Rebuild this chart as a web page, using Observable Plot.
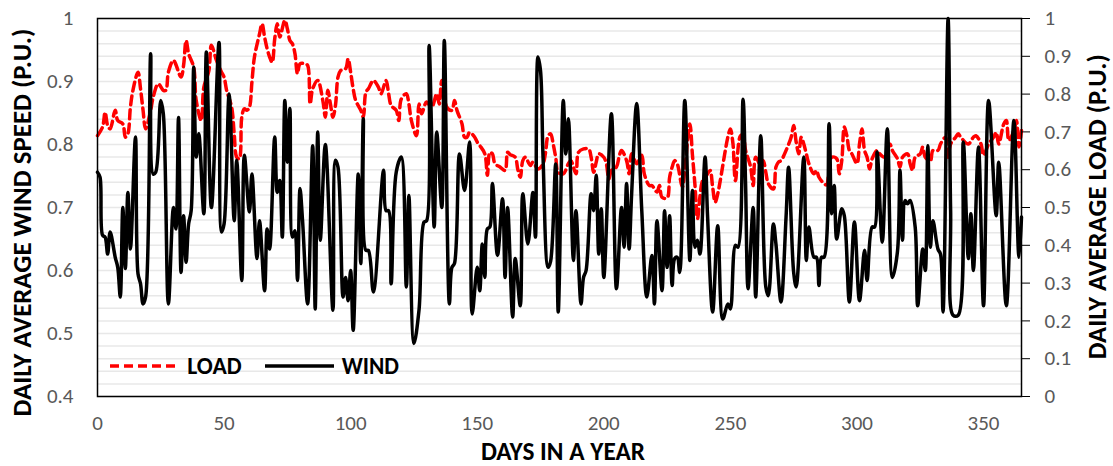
<!DOCTYPE html>
<html><head><meta charset="utf-8">
<script src="https://cdn.jsdelivr.net/npm/d3@7"></script>
<script src="https://cdn.jsdelivr.net/npm/@observablehq/plot@0.6"></script>
<style>
html,body{margin:0;padding:0;background:#fff;}
#wrap{position:relative;width:1113px;height:466px;font-family:Carlito,Lato,"Open Sans",sans-serif;}
#over{position:absolute;left:0;top:0;pointer-events:none;}
</style></head><body><div id="wrap"></div>
<script>
const windDay = [0,1,2,3,4,5,7,8,9,10,11,12,13,15,16,17,18,19,21,22,23,25,26,28,30,31,32,33,34,35,36,37,38,39,40,42,43,45,48,49,50,52,54,55,57,58,60,61,63,64,66,67,68,70,71,72,73,74,75,76,77,78,79,80,81,83,85,86,87,88,90,93,94,95,97,98,99,100,101,103,104,105,106,107,109,113,114,115,116,118,120,122,123,125,127,129,130,131,133,134,136,137,139,140,141,143,145,147,148,150,151,152,153,154,155,156,158,160,161,162,164,165,167,168,170,172,173,174,175,176,178,179,181,182,184,185,186,188,189,191,192,193,195,196,197,198,199,200,203,205,207,208,209,210,211,213,215,217,219,220,221,223,224,225,226,227,228,229,230,232,234,235,236,237,238,240,241,243,245,247,249,250,252,253,255,256,257,259,260,262,264,265,267,268,270,272,273,275,276,279,280,281,283,284,285,286,287,289,290,291,292,294,295,297,299,301,303,304,306,307,308,310,312,314,316,317,318,319,320,321,323,324,326,327,328,329,330,332,333,334,336,337,338,340,342,344,345,346,348,350,352,355,356,359,362,364,365];
const windVal = [0.756,0.748,0.656,0.653,0.626,0.661,0.621,0.605,0.558,0.700,0.603,0.724,0.634,0.812,0.595,0.579,0.547,0.558,0.944,0.753,0.756,0.870,0.849,0.547,0.700,0.666,0.843,0.597,0.687,0.613,0.674,0.695,0.923,0.780,0.817,0.690,0.947,0.700,0.962,0.661,0.674,0.880,0.679,0.775,0.584,0.783,0.693,0.753,0.619,0.679,0.568,0.666,0.634,0.812,0.724,0.743,0.653,0.870,0.772,0.857,0.653,0.663,0.584,0.730,0.679,0.547,0.798,0.539,0.820,0.648,0.800,0.537,0.775,0.764,0.558,0.589,0.552,0.600,0.505,0.753,0.611,0.841,0.632,0.632,0.566,0.759,0.695,0.695,0.579,0.756,0.780,0.574,0.719,0.484,0.537,0.677,0.679,0.957,0.669,0.820,0.700,0.965,0.547,0.605,0.611,0.785,0.727,0.804,0.531,0.605,0.568,0.642,0.589,0.666,0.669,0.738,0.624,0.714,0.589,0.700,0.526,0.619,0.544,0.722,0.642,0.724,0.653,0.939,0.917,0.780,0.605,0.615,0.769,0.534,0.870,0.785,0.841,0.616,0.695,0.547,0.589,0.600,0.722,0.695,0.751,0.626,0.698,0.589,0.849,0.571,0.700,0.637,0.738,0.634,0.722,0.865,0.695,0.558,0.624,0.547,0.679,0.568,0.695,0.605,0.687,0.576,0.619,0.621,0.597,0.870,0.616,0.727,0.637,0.648,0.626,0.780,0.685,0.534,0.671,0.523,0.547,0.539,0.640,0.637,0.872,0.738,0.571,0.700,0.558,0.814,0.574,0.560,0.674,0.642,0.550,0.685,0.764,0.597,0.574,0.780,0.616,0.669,0.621,0.621,0.576,0.621,0.621,0.833,0.690,0.735,0.650,0.698,0.687,0.550,0.677,0.552,0.632,0.584,0.669,0.669,0.788,0.645,0.825,0.589,0.630,0.759,0.648,0.711,0.706,0.711,0.669,0.544,0.634,0.600,0.798,0.637,0.679,0.634,0.626,0.534,1.000,0.695,0.529,0.529,0.804,0.619,0.690,0.600,0.796,0.544,0.870,0.687,0.772,0.544,0.838,0.621,0.685];
const loadDay = [0,2,3,4,5,7,8,10,11,12,13,14,16,17,18,19,21,22,24,26,27,28,30,33,34,35,36,38,39,41,42,44,45,47,49,50,51,53,54,55,56,57,58,59,60,61,62,64,65,66,67,68,69,70,71,72,74,75,76,77,78,79,80,82,83,84,85,87,89,90,91,92,93,94,95,96,98,99,100,101,102,104,105,106,107,109,111,112,114,115,116,118,119,120,122,123,124,126,127,128,130,132,134,135,136,137,138,140,141,142,144,145,146,147,149,150,151,153,154,155,156,157,159,161,162,163,165,166,167,168,169,171,172,174,176,177,178,179,180,181,182,184,186,187,189,190,192,194,195,196,197,198,200,201,202,203,205,206,207,209,210,211,213,215,216,218,219,221,222,223,225,226,227,228,229,231,232,234,235,236,237,238,239,241,242,243,244,245,246,248,249,250,251,252,254,255,256,258,259,260,262,263,264,265,267,268,269,270,272,274,275,276,277,278,279,280,281,283,284,285,287,288,290,292,293,294,295,296,297,298,300,301,302,303,304,305,306,308,309,311,313,314,316,317,318,320,321,322,323,325,326,327,329,330,332,333,335,336,337,339,340,341,344,346,347,349,350,352,354,355,356,358,359,360,362,363,364,365];
const loadVal = [0.690,0.713,0.752,0.717,0.708,0.757,0.730,0.721,0.686,0.695,0.765,0.810,0.858,0.814,0.757,0.708,0.757,0.792,0.827,0.810,0.810,0.858,0.889,0.845,0.876,0.942,0.907,0.871,0.783,0.730,0.818,0.862,0.929,0.889,0.858,0.845,0.810,0.765,0.695,0.633,0.629,0.739,0.761,0.757,0.765,0.832,0.898,0.959,0.986,0.951,0.920,0.898,0.884,0.946,0.986,0.951,0.995,0.973,0.942,0.933,0.907,0.854,0.880,0.880,0.876,0.774,0.814,0.836,0.783,0.739,0.810,0.774,0.739,0.770,0.845,0.862,0.867,0.893,0.858,0.814,0.783,0.757,0.739,0.805,0.814,0.836,0.818,0.801,0.836,0.801,0.770,0.757,0.730,0.787,0.801,0.774,0.730,0.690,0.774,0.748,0.779,0.765,0.801,0.774,0.836,0.810,0.765,0.757,0.783,0.757,0.721,0.686,0.686,0.699,0.686,0.673,0.664,0.642,0.585,0.646,0.642,0.616,0.607,0.598,0.646,0.640,0.633,0.602,0.580,0.624,0.633,0.611,0.620,0.602,0.616,0.646,0.690,0.695,0.668,0.633,0.593,0.589,0.616,0.624,0.589,0.646,0.655,0.655,0.633,0.593,0.620,0.642,0.633,0.616,0.576,0.598,0.607,0.633,0.651,0.624,0.589,0.642,0.616,0.638,0.589,0.558,0.558,0.541,0.558,0.527,0.525,0.580,0.607,0.624,0.616,0.554,0.600,0.721,0.640,0.560,0.470,0.530,0.571,0.589,0.598,0.554,0.514,0.536,0.571,0.651,0.686,0.708,0.670,0.571,0.690,0.690,0.651,0.607,0.558,0.633,0.611,0.624,0.593,0.563,0.549,0.607,0.620,0.624,0.651,0.686,0.717,0.673,0.642,0.686,0.668,0.642,0.616,0.589,0.598,0.580,0.563,0.560,0.633,0.629,0.589,0.624,0.713,0.690,0.651,0.642,0.616,0.668,0.708,0.651,0.633,0.602,0.629,0.651,0.642,0.633,0.668,0.651,0.629,0.607,0.633,0.642,0.616,0.598,0.633,0.642,0.660,0.633,0.624,0.651,0.651,0.668,0.686,0.633,0.668,0.686,0.695,0.686,0.668,0.686,0.690,0.668,0.638,0.668,0.686,0.699,0.668,0.721,0.730,0.677,0.704,0.730,0.660,0.704];
const leftTicks = [0.4,0.5,0.6,0.7,0.8,0.9,1];
const rightTicks = [0,0.1,0.2,0.3,0.4,0.5,0.6,0.7,0.8,0.9,1];
const xTicks = [0,50,100,150,200,250,300,350];
const seriesNames = ["LOAD","WIND"];
const titles = {left:"DAILY AVERAGE WIND SPEED (P.U.)", right:"DAILY AVERAGE LOAD (P.U.)", bottom:"DAYS IN A YEAR"};

const toLeft = v => 0.4 + 0.6 * v;
const fromLeft = v => (v - 0.4) / 0.6;
const fmt = v => { const r = Math.round(v * 10) / 10; return (r === 0 || r === 1) ? String(r) : r.toFixed(1); };
const wind = windDay.map((d, i) => ({day: d, v: windVal[i]}));
const load = loadDay.map((d, i) => ({day: d, v: toLeft(loadVal[i])}));
const grid = d3.range(0, 31).map(k => 0.4 + 0.6 * k / 30);
const FONT = 'Carlito, Lato, "Open Sans", sans-serif';

const chart = Plot.plot({
  width: 1113, height: 466,
  marginLeft: 97, marginRight: 92, marginTop: 18, marginBottom: 70,
  x: {domain: [0, 365], label: null},
  y: {domain: [0.4, 1], label: null},
  style: {fontFamily: FONT, fontSize: "21px", background: "#fff", overflow: "visible"},
  marks: [
    Plot.ruleY(grid, {stroke: "#e8e8e8", strokeWidth: 1.5}),
    Plot.lineY(load, {x: "day", y: "v", stroke: "#ff0000", strokeWidth: 3.5, strokeDasharray: "9,5", curve: "catmull-rom"}),
    Plot.lineY(wind, {x: "day", y: "v", stroke: "#000", strokeWidth: 3.5, curve: "catmull-rom"}),
    Plot.frame({stroke: "#000", strokeWidth: 1.5}),
    Plot.axisY(leftTicks, {anchor: "left", tickSize: 0, tickPadding: 24, fill: "#595959", tickFormat: fmt, label: null}),
    Plot.axisY(rightTicks.map(toLeft), {anchor: "right", tickSize: 8, tickPadding: 15, stroke: "#000", fill: "#595959", tickFormat: d => fmt(fromLeft(d)), label: null}),
    Plot.axisX(xTicks, {anchor: "bottom", tickSize: 0, tickPadding: 19, fill: "#595959", label: null})
  ]
});

const wrap = document.getElementById("wrap");
wrap.appendChild(chart);

const ns = "http://www.w3.org/2000/svg";
const over = document.createElementNS(ns, "svg");
over.setAttribute("id", "over");
over.setAttribute("width", 1113);
over.setAttribute("height", 466);
wrap.appendChild(over);
function txt(s, attrs, target) {
  const t = document.createElementNS(ns, "text");
  for (const k in attrs) t.setAttribute(k, attrs[k]);
  t.textContent = s;
  over.appendChild(t);
  if (target) {
    const w = t.getComputedTextLength();
    const fs = parseFloat(t.getAttribute("font-size"));
    if (w > 0) t.setAttribute("font-size", (fs * target / w).toFixed(2));
  }
  return t;
}
function ln(x1, y1, x2, y2, attrs) {
  const l = document.createElementNS(ns, "line");
  Object.assign(attrs, {x1, y1, x2, y2});
  for (const k in attrs) l.setAttribute(k, attrs[k]);
  over.appendChild(l);
}
const base = {"font-family": FONT, "font-weight": "bold", "font-size": 20, fill: "#000", "text-anchor": "middle", "dominant-baseline": "central"};
txt(titles.left, Object.assign({}, base, {transform: "translate(21,222.5) rotate(-90)"}), 388);
txt(titles.right, Object.assign({}, base, {transform: "translate(1097,206.7) rotate(-90)"}), 305);
txt(titles.bottom, Object.assign({}, base, {x: 563, y: 460, "dominant-baseline": "alphabetic"}), 164);
// legend
ln(110, 366, 180, 366, {stroke: "#ff0000", "stroke-width": 3.5, "stroke-dasharray": "9,5"});
txt(seriesNames[0], Object.assign({}, base, {x: 187.3, y: 366, "text-anchor": "start"}), 54.4);
ln(265, 366, 334, 366, {stroke: "#000", "stroke-width": 3.5});
txt(seriesNames[1], Object.assign({}, base, {x: 341.7, y: 366, "text-anchor": "start"}), 57.3);
</script>
</body></html>
